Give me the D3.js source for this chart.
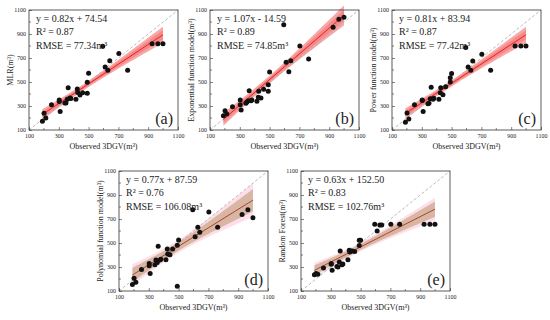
<!DOCTYPE html>
<html>
<head>
<meta charset="utf-8">
<script src="https://cdn.jsdelivr.net/npm/d3@7"></script>
<style>
  body { margin: 0; background: #fff; }
  svg text { font-family: "Liberation Serif", "Times New Roman", serif; fill: #222; }
</style>
</head>
<body>
<svg id="chart" width="550" height="320"></svg>
<script>
// observed 3DGV, shared by every model panel
const observed = [190, 201, 213, 251, 303, 303, 309, 341, 348, 357, 363, 375, 381, 415, 424,
  427, 442, 460, 491, 491, 500, 595, 611, 629, 642, 703, 762, 926, 965, 999];

const mlr = [173, 240, 200, 310, 337, 351, 254, 326, 326, 357, 452, 366, 363, 357, 441,
  413, 391, 410, 407, 497, 572, 798, 625, 597, 678, 737, 597, 818, 818, 818];
const expModel = [219, 261, 233, 294, 350, 311, 267, 322, 333, 344, 428, 344, 350, 339, 372,
  422, 367, 439, 422, 478, 583, 978, 664, 586, 678, 800, 692, 956, 1022, 1039];
const powerModel = [164, 242, 192, 310, 346, 351, 254, 318, 323, 360, 457, 357, 365, 357, 410,
  452, 393, 460, 536, 499, 570, 787, 625, 597, 675, 731, 597, 801, 801, 801];
const polyModel = [155, 206, 173, 279, 310, 330, 246, 318, 358, 338, 472, 358, 365, 360, 450,
  408, 402, 450, 140, 481, 525, 778, 553, 632, 590, 758, 632, 738, 778, 710];
const rfModel = [236, 246, 239, 292, 322, 330, 272, 305, 300, 342, 433, 319, 325, 361, 439,
  425, 433, 430, 522, 480, 522, 656, 600, 650, 650, 656, 656, 656, 656, 656];

const slopes = [0.82, 1.07, 0.81, 0.77, 0.63];
const intercepts = [74.54, -14.59, 83.94, 87.59, 152.50];
const r2 = ['0.87', '0.89', '0.87', '0.76', '0.83'];
const rmse = ['77.34', '74.85', '77.42', '106.08', '102.76'];
const yLabels = ['MLR(m³)', 'Exponential function model(m³)', 'Power function model(m³)',
  'Polynomial function model(m³)', 'Random Forest(m³)'];
const panelTags = ['(a)', '(b)', '(c)', '(d)', '(e)'];
const tickValues = [100, 300, 500, 700, 900, 1100];

const models = [mlr, expModel, powerModel, polyModel, rfModel];
const origins = [[29, 10], [210, 10], [392, 10], [119, 171], [301, 171]];
const w = 149, h = 120;

const svg = d3.select('#chart');

models.forEach((pred, i) => {
  const g = svg.append('g').attr('transform', 'translate(' + origins[i][0] + ',' + origins[i][1] + ')');
  const x = d3.scaleLinear().domain([100, 1100]).range([0, w]);
  const y = d3.scaleLinear().domain([100, 1100]).range([h, 0]);
  const tan = i >= 3;

  // 95% confidence band of the fitted line
  const n = observed.length;
  const mx = d3.mean(observed);
  const sxx = d3.sum(observed, v => (v - mx) * (v - mx));
  const fit = v => slopes[i] * v + intercepts[i];
  const s = Math.sqrt(d3.sum(observed, (v, k) => Math.pow(pred[k] - fit(v), 2)) / (n - 2));
  const [x0, x1] = d3.extent(observed);
  const xs = d3.range(x0, x1 + 1, 10).concat([x1]);
  const half = v => 2.05 * s * Math.sqrt(1 / n + (v - mx) * (v - mx) / sxx);

  const area = d3.area()
    .x(v => x(v))
    .y0(v => y(fit(v) - half(v)))
    .y1(v => y(fit(v) + half(v)));

  if (tan) {
    g.append('path').datum(xs).attr('d', d3.area().x(v => x(v))
      .y0(v => y(fit(v) - half(v) * 1.5)).y1(v => y(fit(v) + half(v) * 1.5)))
      .attr('fill', '#ffb6cf').attr('opacity', 0.45);
    g.append('path').datum(xs).attr('d', area).attr('fill', '#c9a98c').attr('opacity', 0.75);
  } else {
    g.append('path').datum(xs).attr('d', area).attr('fill', '#f58a8a').attr('opacity', 0.75);
    g.append('path').datum(xs).attr('d', d3.area().x(v => x(v))
      .y0(v => y(fit(v) - half(v) * 0.55)).y1(v => y(fit(v) + half(v) * 0.55)))
      .attr('fill', '#f26a6a').attr('opacity', 0.5);
  }

  // 1:1 line
  g.append('line')
    .attr('x1', x(100)).attr('y1', y(100)).attr('x2', x(1100)).attr('y2', y(1100))
    .attr('stroke', '#aaa').attr('stroke-width', 0.8).attr('stroke-dasharray', '3,2');

  g.append('line')
    .attr('x1', x(x0)).attr('y1', y(fit(x0))).attr('x2', x(x1)).attr('y2', y(fit(x1)))
    .attr('stroke', tan ? '#b2402e' : '#ee2020').attr('stroke-width', 1);

  g.selectAll('circle')
    .data(observed)
    .enter()
    .append('circle')
    .attr('cx', d => x(d))
    .attr('cy', (d, k) => y(pred[k]))
    .attr('r', 2.5)
    .attr('fill', '#111');

  // axes, ticks pointing inward
  const ax = g.append('g').attr('transform', 'translate(0,' + h + ')')
    .call(d3.axisBottom(x).tickValues(tickValues).tickFormat(d3.format('d')).tickSize(-3).tickPadding(4));
  const ay = g.append('g')
    .call(d3.axisLeft(y).tickValues(tickValues).tickFormat(d3.format('d')).tickSize(-3).tickPadding(3));
  [ax, ay].forEach(a => {
    a.select('.domain').remove();
    a.selectAll('line').attr('stroke', '#333').attr('stroke-width', 0.6);
    a.selectAll('text').style('font-size', '6px').style('font-family', 'Liberation Serif').attr('fill', '#333');
  });
  const minor = d3.range(200, 1100, 200);
  g.selectAll('.mx').data(minor).enter().append('line')
    .attr('x1', d => x(d)).attr('x2', d => x(d)).attr('y1', h).attr('y2', h - 2)
    .attr('stroke', '#333').attr('stroke-width', 0.6);
  g.selectAll('.my').data(minor).enter().append('line')
    .attr('y1', d => y(d)).attr('y2', d => y(d)).attr('x1', 0).attr('x2', 2)
    .attr('stroke', '#333').attr('stroke-width', 0.6);

  g.append('rect').attr('width', w).attr('height', h)
    .attr('fill', 'none').attr('stroke', '#333').attr('stroke-width', 0.8);

  // labels
  g.append('text')
    .attr('x', w / 2).attr('y', h + 19)
    .attr('text-anchor', 'middle')
    .style('font-size', '8px')
    .text('Observed 3DGV(m³)');
  g.append('text')
    .attr('transform', 'translate(-16,' + (h / 2) + ') rotate(-90)')
    .attr('text-anchor', 'middle')
    .style('font-size', '8px')
    .text(yLabels[i]);

  const sign = intercepts[i] < 0 ? ' - ' : ' + ';
  const lines = ['y = ' + slopes[i].toFixed(2) + 'x' + sign + Math.abs(intercepts[i]).toFixed(2),
    'R² = ' + r2[i], 'RMSE = ' + rmse[i] + 'm³'];
  g.selectAll('.ann').data(lines).enter().append('text')
    .attr('x', 7).attr('y', (d, k) => 12 + k * 13.3)
    .style('font-size', '10px')
    .text(d => d);

  g.append('text')
    .attr('x', w - 5).attr('y', h - 6)
    .attr('text-anchor', 'end')
    .style('font-size', '16px')
    .text(panelTags[i]);
});
</script>
</body>
</html>
